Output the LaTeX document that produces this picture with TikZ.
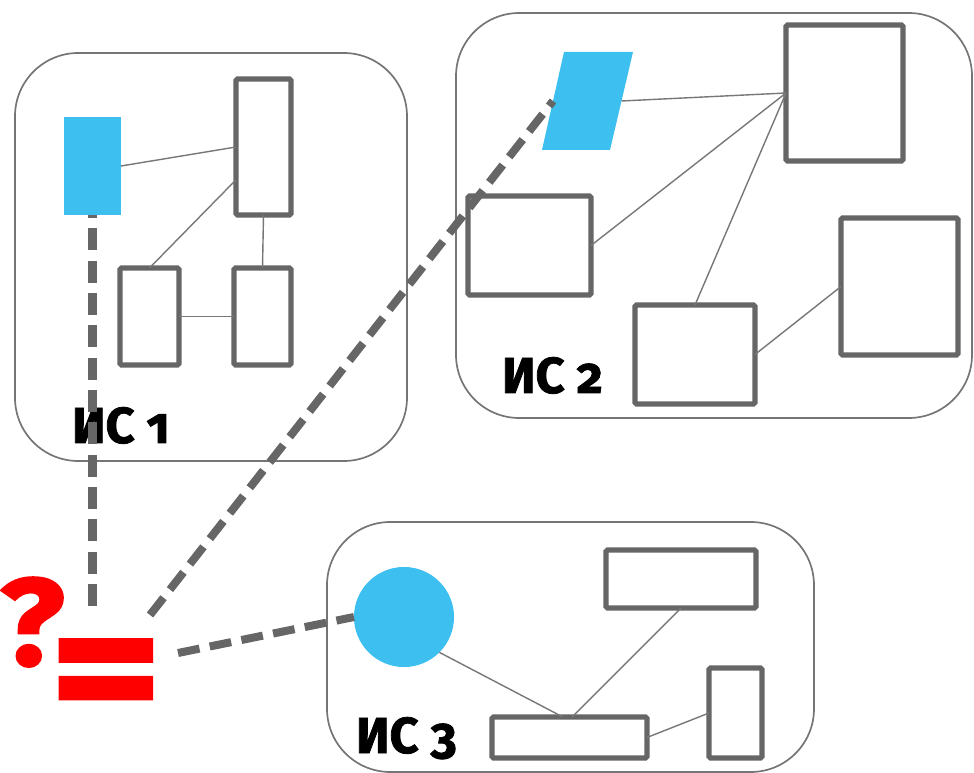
\documentclass[tikz,border=0pt]{standalone}
\usepackage{fontspec}
\setmainfont{Fira Sans}[Numbers=OldStyle]
\newfontfamily\heavyfont{Fira Sans}[Numbers=OldStyle,BoldFeatures={FakeBold=1.5}]
\usetikzlibrary{fit}
\definecolor{partgray}{HTML}{666666}
\definecolor{linkgray}{HTML}{777777}
\definecolor{infoblue}{HTML}{3DBFEF}
\begin{document}
\begin{tikzpicture}
  [x=0.025cm,y=-0.025cm,every node/.style={inner sep=0pt,outer sep=0pt}]
  \tikzstyle{system} = [draw=partgray!90,line width=1.2pt,rounded corners=45pt]
  \tikzstyle{part} = [draw=partgray,line width=3.6pt,rounded corners=1pt]
  \tikzstyle{info} = [fill=infoblue]
  \tikzstyle{link} = [draw=linkgray,line width=1pt]
  \tikzstyle{match} = [draw=partgray,line width=5.7pt,dash pattern=on 15.6pt off 7.4pt]
  \tikzstyle{label} = [font=\heavyfont\bfseries\fontsize{36}{36}\selectfont,anchor=base west]
  \useasboundingbox (0,0) rectangle (974,773);
  % systems
  \node[system,fit={(15,53)(407,461)}] (is1) {};
  \node[system,fit={(456,13)(972,418)}] (is2) {};
  \node[system,fit={(327,522)(814,772)}] (is3) {};
  % IS 1
  \node[info,fit={(64,117)(121,215)}] (b1) {};
  \node[part,fit={(236,79)(291,215)}] (a1) {};
  \node[part,fit={(120,268)(179,365)}] (a2) {};
  \node[part,fit={(234,268)(291,365)}] (a3) {};
  \node[label] (l1) at (72,443) {ИС 1};
  % IS 2
  \fill[infoblue] (542,150) -- (564,52) -- (633,52) -- (610,150) -- cycle;
  \coordinate (b2w) at (553,101);
  \coordinate (b2e) at (621.5,101);
  \node[part,fit={(786,25)(903,161)}] (c1) {};
  \node[part,fit={(468,196)(591,295)}] (c2) {};
  \node[part,fit={(635,305)(755,404)}] (c3) {};
  \node[part,fit={(841,218)(958,355)}] (c4) {};
  \node[label] (l2) at (502,393) {ИС 2};
  % IS 3
  \node[info,circle,minimum size=2.5cm] (b3) at (404,617) {};
  \node[part,fit={(606,550)(756,608)}] (d1) {};
  \node[part,fit={(492,717)(647,758)}] (d2) {};
  \node[part,fit={(709,668)(762,758)}] (d3) {};
  \node[label] (l3) at (356,753) {ИС 3};
  \foreach \source/\dest in {b1.east/a1.west,a1.230/a2.north,a1.south/a3.north,a2.east/a3.west,
      b2e/c1.west,c2.east/c1.west,c3.north/c1.west,c3.east/c4.west,
      b3.315/d2.108,d1.south/d2.83,d2.east/d3.west}
    \draw[link] (\source) -- (\dest);
  % question
  \node[font=\heavyfont\bfseries\fontsize{88}{88}\selectfont,text=red,anchor=base,xscale=1.1] (ask) at (32,665) {?};
  \node[font=\heavyfont\bfseries\fontsize{128}{128}\selectfont,text=red,anchor=base,xscale=1.2] (eq) at (106,729) {=};
  \coordinate (e1) at (92.5,606);
  \coordinate (e2) at (150,615);
  \coordinate (e3) at (178,653);
  \foreach \source/\dest in {e1/b1.south,e2/b2w,e3/b3.west}
    \draw[match] (\source) -- (\dest);
\end{tikzpicture}
\end{document}
